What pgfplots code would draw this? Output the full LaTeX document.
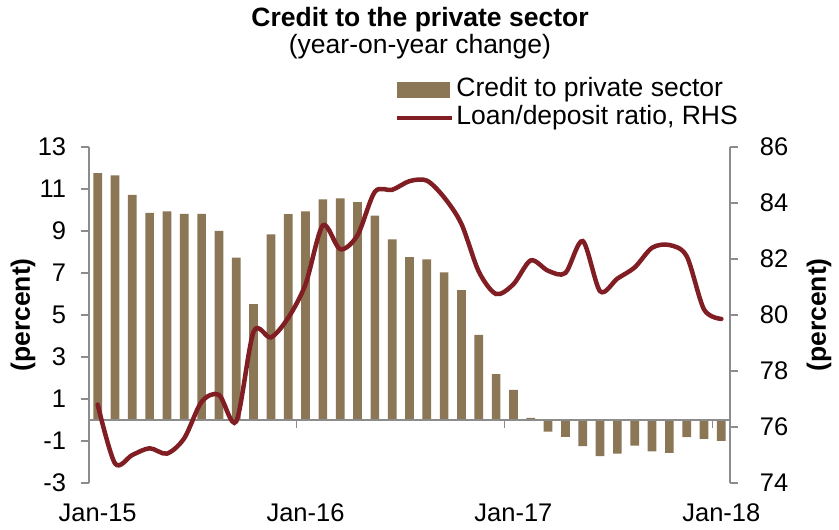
\documentclass[border=0pt]{standalone}
\usepackage{pgfplots}
\pgfplotsset{compat=1.18}
\usepackage{fontspec}
\setmainfont{Liberation Sans}
\definecolor{barc}{RGB}{139,119,85}
\definecolor{linec}{RGB}{128,30,36}
\definecolor{axc}{RGB}{140,140,140}
\pgfplotstableread{
x y
0 11.75
1 11.65
2 10.72
3 9.86
4 9.93
5 9.82
6 9.81
7 9.0
8 7.73
9 5.52
10 8.84
11 9.8
12 9.93
13 10.5
14 10.55
15 10.37
16 9.73
17 8.6
18 7.75
19 7.65
20 7.03
21 6.19
22 4.05
23 2.19
24 1.43
25 0.1
26 -0.55
27 -0.8
28 -1.24
29 -1.72
30 -1.6
31 -1.22
32 -1.49
33 -1.57
34 -0.81
35 -0.9
36 -1.0
}\credit
\pgfplotstableread{
x y
0 76.8
1 74.7
2 75.0
3 75.24
4 75.05
5 75.6
6 76.9
7 77.15
8 76.2
9 79.4
10 79.2
11 79.9
12 81.1
13 83.2
14 82.35
15 82.85
16 84.4
17 84.47
18 84.78
19 84.8
20 84.2
21 83.25
22 81.55
23 80.75
24 81.1
25 81.95
26 81.58
27 81.5
28 82.64
29 80.85
30 81.3
31 81.7
32 82.4
33 82.5
34 82.1
35 80.2
36 79.86
}\ratio
\begin{document}
\fontsize{26}{31}\selectfont
\begin{tikzpicture}
\useasboundingbox (0,0) rectangle (839pt,530pt);
\node[anchor=base, font=\fontsize{26.5}{30}\selectfont\bfseries, inner sep=0pt] at (420pt,503pt) {Credit to the private sector};
\node[anchor=base, font=\fontsize{26.5}{30}\selectfont, inner sep=0pt] at (420pt,476pt) {(year-on-year change)};
\node[rotate=90, anchor=center, font=\fontsize{26.5}{30}\selectfont\bfseries, inner sep=0pt] at (23pt,215pt) {(percent)};
\node[rotate=90, anchor=center, font=\fontsize{26.5}{30}\selectfont\bfseries, inner sep=0pt] at (819pt,215pt) {(percent)};
\begin{axis}[
  at={(89pt,47pt)}, anchor=south west, scale only axis,
  width=641pt, height=336pt,
  xmin=-0.5, xmax=36.5, ymin=-3, ymax=13,
  axis y line*=left, axis x line*=bottom,
  x axis line style={draw=none},
  y axis line style={axc, line width=1.2pt, -},
  ytick={-3,-1,1,3,5,7,9,11,13},
  yticklabels={-3,-1,1,3,5,7,9,11,13},
  xtick={0,12,24,36},
  xticklabels={Jan-15,Jan-16,Jan-17,Jan-18},
  major x tick style={draw=none},
  major y tick style={axc, line width=1.2pt},
  tick align=outside, major tick length=8pt,
  minor tick num=0,
  tick label style={font=\fontsize{25.5}{30}\selectfont},
  yticklabel style={xshift=-6pt},
  xticklabel style={yshift=-4pt},
  clip=false,
  legend style={at={(0.477,1.212)}, anchor=north west, draw=none, fill=none,
    legend cell align=left, row sep=0pt, inner sep=0pt,
    font=\fontsize{26.5}{30}\selectfont,
    nodes={text height=19pt, text depth=5pt, inner sep=2pt}},
]
\addplot[ybar, bar width=8.7pt, fill=barc, draw=none,
  legend image code/.code={\fill[barc] (0pt,-8pt) rectangle (53pt,8pt);}] table[x=x,y=y] {\credit};
\addlegendentry{Credit to private sector}
\addlegendimage{legend image code/.code={\draw[linec, line width=4.5pt] (0pt,0pt) -- (55pt,0pt);}}
\addlegendentry{Loan/deposit ratio, RHS}
\addplot[axc, line width=1.2pt, forget plot] coordinates {(-0.5,0) (36.5,0)};
\addplot[axc, line width=1.2pt, forget plot] coordinates {(11.5,0) (11.5,-0.38)};
\addplot[axc, line width=1.2pt, forget plot] coordinates {(23.5,0) (23.5,-0.38)};
\addplot[axc, line width=1.2pt, forget plot] coordinates {(35.5,0) (35.5,-0.38)};
\end{axis}
\begin{axis}[
  at={(89pt,47pt)}, anchor=south west, scale only axis,
  width=641pt, height=336pt,
  xmin=-0.5, xmax=36.5, ymin=74, ymax=86,
  axis y line*=right, axis x line=none,
  y axis line style={axc, line width=1.2pt, -},
  ytick={74,76,78,80,82,84,86},
  yticklabels={74,76,78,80,82,84,86},
  major y tick style={axc, line width=1.2pt},
  tick align=outside, major tick length=8pt,
  tick label style={font=\fontsize{25.5}{30}\selectfont},
  yticklabel style={xshift=13pt},
  clip=false,
]
\addplot[linec, line width=4.5pt, smooth, line cap=round] table[x=x,y=y] {\ratio};
\end{axis}
\end{tikzpicture}
\end{document}
